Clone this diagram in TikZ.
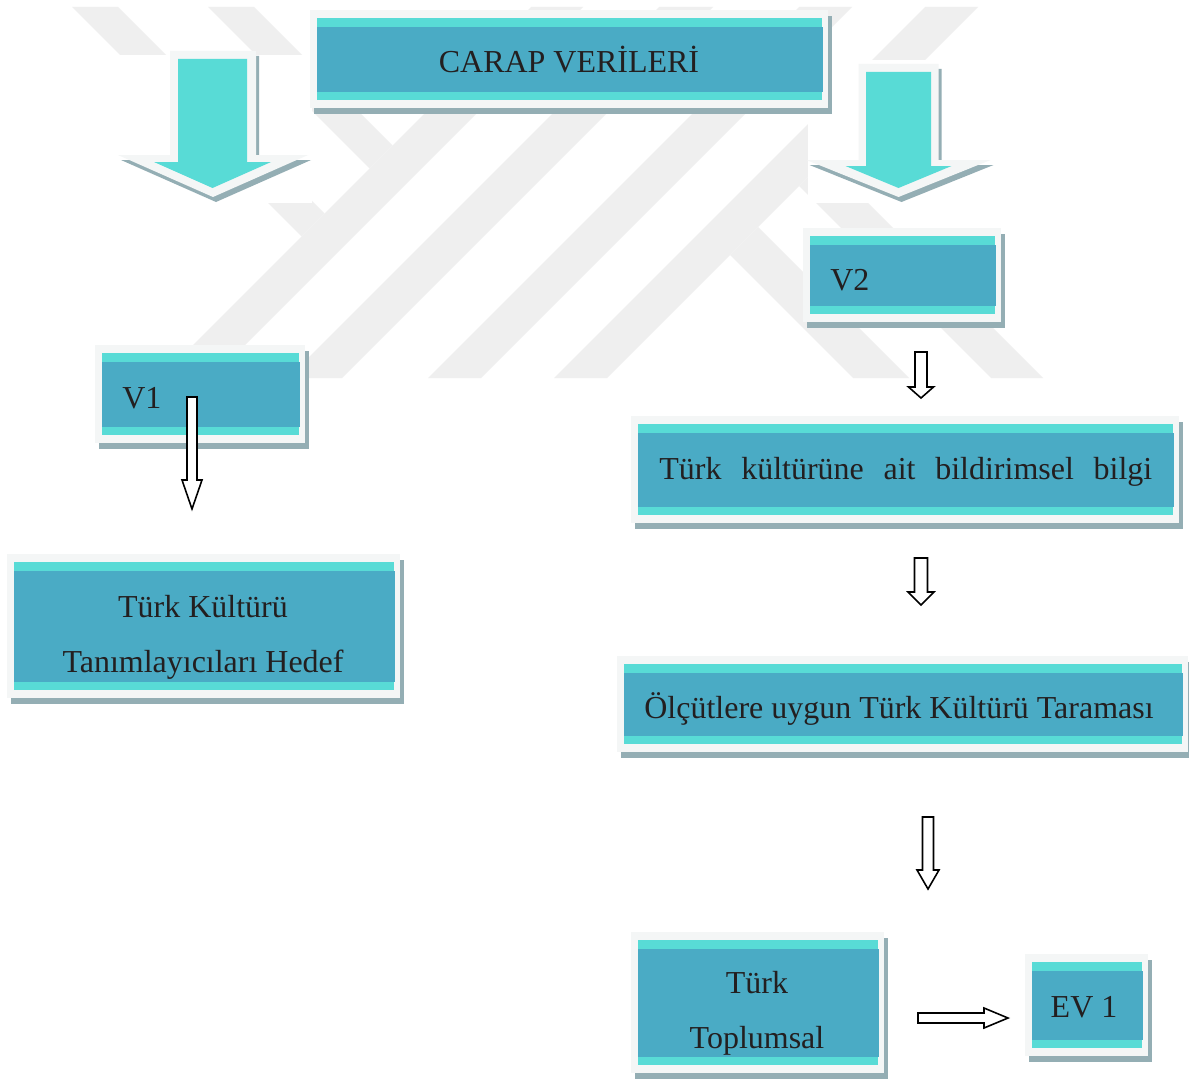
\documentclass[tikz,border=0pt]{standalone}
\usepackage{fontspec}
\setmainfont{Liberation Serif}
\usepackage{tikz}
\usetikzlibrary{calc,positioning}

\definecolor{boxcyan}{HTML}{58DBD6}
\definecolor{boxteal}{HTML}{4AABC5}
\definecolor{boxrim}{HTML}{F4F6F6}
\definecolor{boxshade}{HTML}{94AEB4}
\definecolor{markgray}{HTML}{EFEFEF}
\definecolor{textc}{HTML}{231F20}

% framed teal box, corners of the light rim
\newcommand{\tealbox}[4]{%
  \fill[boxshade] (#1+4,#2+6) rectangle (#3+4,#4+6);
  \fill[boxrim] (#1,#2) rectangle (#3,#4);
  \fill[boxcyan] (#1+7,#2+8) rectangle (#3-6,#4-8);
  \fill[boxteal] (#1+7,#2+17) rectangle (#3-5,#4-16);
}
% big down arrow: style, centre x, top, shaft half, head half, head base, tip
\newcommand{\blockdown}[7]{%
  \fill[#1] (#2-#4,#3) -- (#2+#4,#3) -- (#2+#4,#6) -- (#2+#5,#6) -- (#2,#7)
    -- (#2-#5,#6) -- (#2-#4,#6) -- cycle;
}
% outlined arrow: from, to, shaft half, head half, head length
\newcommand{\hollowarrow}[5]{%
  \coordinate (hb) at ($(#2)!#5!(#1)$);
  \draw[hollowarr] ($(#1)!#3!90:(#2)$) -- ($(hb)!#3!90:(#2)$) -- ($(hb)!#4!90:(#2)$)
    -- (#2) -- ($(hb)!#4!-90:(#2)$) -- ($(hb)!#3!-90:(#2)$) -- ($(#1)!#3!-90:(#2)$) -- cycle;
}

\begin{document}
\begin{tikzpicture}[x=0.02cm,y=-0.02cm,
    txt/.style={font=\fontsize{18.2}{22}\selectfont, text=textc, inner sep=0pt},
    hollowarr/.style={draw=black, fill=white, line width=0.9pt, line join=miter}]
  \useasboundingbox (0,0) rectangle (1189,1078);
  \fill[white] (0,0) rectangle (1189,1078);

  % watermark
  \foreach \a/\b in {538/590,666/720,806/859,932/985}
    \fill[markgray] (\a-7,7) -- (\b-7,7) -- (\b-378,378) -- (\a-378,378) -- cycle;
  \fill[markgray] (72,7) -- (118,7) -- (324.5,213.5) -- (301.5,236.5) -- cycle;
  \fill[markgray] (208,7) -- (254,7) -- (392.5,145.5) -- (369.5,168.5) -- cycle;
  \fill[markgray] (730,255) -- (758,227) -- (909,378) -- (853,378) -- cycle;
  \fill[markgray] (799,186) -- (825,160) -- (1043,378) -- (991,378) -- cycle;
  \fill[white] (117,55) rectangle (312,203);
  \fill[white] (808,60) rectangle (993,203);

  % big arrows
  \blockdown{boxshade,shift={(3,5)}}{213}{51}{43}{95}{155}{197}
  \blockdown{boxrim}{213}{51}{43}{95}{155}{197}
  \blockdown{boxcyan}{212.5}{59}{34.5}{58.5}{162}{188}
  \blockdown{boxshade,shift={(3,5)}}{898.5}{64}{40}{92}{160}{197}
  \blockdown{boxrim}{898.5}{64}{40}{92}{160}{197}
  \blockdown{boxcyan}{898.5}{72}{32.5}{53}{166}{188}

  % boxes
  \tealbox{310}{10}{828}{108}
  \tealbox{803}{228}{1001}{322}
  \tealbox{95}{345}{305}{443}
  \tealbox{7}{554}{400}{698}
  \tealbox{631}{416}{1179}{523}
  \tealbox{617}{656}{1188}{752}
  \tealbox{631}{932}{884}{1073}
  \tealbox{1025}{954}{1148}{1056}

  \node[txt, anchor=base] (carap) at (569,72) {CARAP VERİLERİ};
  \node[txt, anchor=base west] (vone) at (122,408) {V1};
  \node[txt, anchor=base west] (vtwo) at (830,290) {V2};
  \node[txt, anchor=base] (hedef1) at (203,617) {Türk Kültürü};
  \node[txt, anchor=base] (hedef2) at (203,672) {Tanımlayıcıları Hedef};
  \node[txt, anchor=base west] (bildirim) at (659,479)
    {\makebox[9.86cm][s]{Türk kültürüne ait bildirimsel bilgi}};
  \node[txt, anchor=base west] (olcut) at (644,718) {Ölçütlere uygun Türk Kültürü Taraması};
  \node[txt, anchor=base] (toplum1) at (757,993) {Türk};
  \node[txt, anchor=base] (toplum2) at (757,1048) {Toplumsal};
  \node[txt, anchor=base] (evone) at (1084,1017) {EV 1};

  % outlined arrows
  \coordinate (a1s) at (192,397);   \coordinate (a1e) at (192,509);
  \coordinate (a2s) at (921,352);   \coordinate (a2e) at (921,398);
  \coordinate (a3s) at (921,558);   \coordinate (a3e) at (921,605);
  \coordinate (a4s) at (928,817);   \coordinate (a4e) at (928,889);
  \coordinate (a5s) at (918,1018);  \coordinate (a5e) at (1008,1018);
  \hollowarrow{a1s}{a1e}{0.1cm}{0.2cm}{0.58cm}
  \hollowarrow{a2s}{a2e}{0.12cm}{0.25cm}{0.22cm}
  \hollowarrow{a3s}{a3e}{0.13cm}{0.26cm}{0.26cm}
  \hollowarrow{a4s}{a4e}{0.11cm}{0.22cm}{0.38cm}
  \hollowarrow{a5s}{a5e}{0.1cm}{0.2cm}{0.48cm}
\end{tikzpicture}
\end{document}
